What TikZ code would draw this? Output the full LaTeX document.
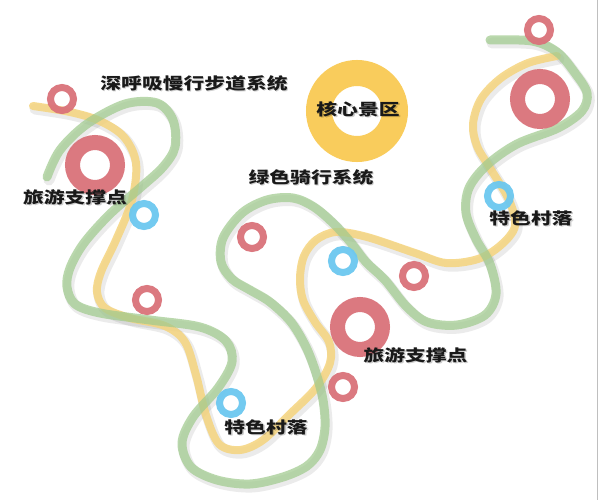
\documentclass[tikz,border=0pt]{standalone}
\usepackage{fontspec}
\newfontfamily\cjk[FakeStretch=1.3]{Noto Sans CJK SC}
\definecolor{ringred}{RGB}{218,114,122}
\definecolor{ringblue}{RGB}{108,200,240}
\definecolor{ringyellow}{RGB}{249,204,92}
\definecolor{lineyellow}{RGB}{245,212,125}
\definecolor{linegreen}{RGB}{160,202,142}
\tikzset{
  yline/.style={draw=lineyellow, line width=8pt, line cap=round, line join=round, opacity=0.85},
  gline/.style={draw=linegreen, line width=9pt, line cap=round, line join=round, opacity=0.72},
  lshadow/.style={draw=black, line width=11pt, line cap=round, line join=round, opacity=0.08, shift={(2,3)}},
  redsmall/.style={draw=ringred, line width=7pt, opacity=0.95},
  redbig/.style={draw=ringred, line width=15pt, opacity=0.95},
  bluering/.style={draw=ringblue, line width=7pt, opacity=0.95},
  yellowring/.style={draw=ringyellow, line width=26pt},
  lbl/.style={font=\cjk\bfseries\fontsize{16}{18}\selectfont, text=black!90, inner sep=0pt},
  lblshadow/.style={font=\cjk\bfseries\fontsize{16}{18}\selectfont, text=black, opacity=0.2, inner sep=0pt}
}
\begin{document}
\begin{tikzpicture}[x=1pt,y=-1pt]
\useasboundingbox (0,0) rectangle (599,500);
\fill[white] (0,0) rectangle (599,500);
\draw[black!25, line width=1pt] (597,0) -- (597,500);

% paths as coordinate lists
\def\ypath{(33,106) (70,112) (100,121) (124,137) (136,163) (132,200) (116,240) (101,272) (97,292) (105,308) (130,318) (165,326) (185,342) (196,375) (206,415) (219,444) (240,450) (263,440) (290,414) (316,388) (330,363) (329,342) (315,322) (303,300) (300,278) (304,256) (316,240) (336,232) (367,237) (415,253) (446,263) (478,259) (501,245) (515,226) (509,200) (490,168) (477,146) (473,124) (481,99) (501,78) (528,63) (557,56)}
\def\gpath{(47,177) (60,150) (87,124) (125,104) (157,103) (173,120) (175,147) (163,167) (140,188) (110,214) (84,243) (70,268) (67,287) (75,304) (100,313) (150,320) (200,327) (226,341) (232,362) (218,388) (193,417) (182,443) (191,467) (217,480) (250,484) (283,477) (307,466) (320,450) (325,427) (323,400) (316,373) (306,347) (291,322) (270,302) (250,290) (232,279) (221,262) (223,238) (242,213) (267,200) (293,198) (314,207) (334,224) (352,244) (366,262) (385,280) (406,306) (427,322) (457,325) (485,315) (496,294) (490,264) (476,239) (466,213) (469,188) (487,165) (517,144) (558,128) (582,111) (587,93) (575,73) (557,52) (532,41) (490,40)}

% shadows
\draw[lshadow] plot[smooth, tension=0.55] coordinates {\ypath};
\draw[lshadow] plot[smooth, tension=0.55] coordinates {\gpath};

% lines
\draw[yline] plot[smooth, tension=0.55] coordinates {\ypath};
\draw[gline] plot[smooth, tension=0.55] coordinates {\gpath};

% core ring
\draw[yellowring] (357,111) circle[radius=38];

% red rings
\draw[redsmall] (62,99) circle[radius=11.5];
\draw[redbig] (95,165) circle[radius=22.5];
\draw[redsmall] (147,300) circle[radius=11.5];
\draw[redsmall] (252,237) circle[radius=11.5];
\draw[redsmall] (414,276) circle[radius=11.5];
\draw[redbig] (360,327) circle[radius=22.5];
\draw[redsmall] (343,387) circle[radius=11.5];
\draw[redsmall] (539,30) circle[radius=11.5];
\draw[redbig] (540,99) circle[radius=22.5];

% blue rings
\draw[bluering] (144,215) circle[radius=11.5];
\draw[bluering] (343,261) circle[radius=11.5];
\draw[bluering] (231,403) circle[radius=11.5];
\draw[bluering] (499,196) circle[radius=11.5];

% label shadows
\node[lblshadow] at (195,84.5) {深呼吸慢行步道系统};
\node[lblshadow] at (359.5,110.5) {核心景区};
\node[lblshadow] at (312,178.5) {绿色骑行系统};
\node[lblshadow] at (76.5,198.5) {旅游支撑点};
\node[lblshadow] at (532.5,219.5) {特色村落};
\node[lblshadow] at (417,356.5) {旅游支撑点};
\node[lblshadow] at (267.5,428.5) {特色村落};

% labels
\node[lbl] (t1) at (194,83) {深呼吸慢行步道系统};
\node[lbl] (t2) at (358,109) {核心景区};
\node[lbl] (t3) at (311,177) {绿色骑行系统};
\node[lbl] (t4) at (75,197) {旅游支撑点};
\node[lbl] (t5) at (531,218) {特色村落};
\node[lbl] (t6) at (415.5,355) {旅游支撑点};
\node[lbl] (t7) at (266,427) {特色村落};
\end{tikzpicture}
\end{document}
